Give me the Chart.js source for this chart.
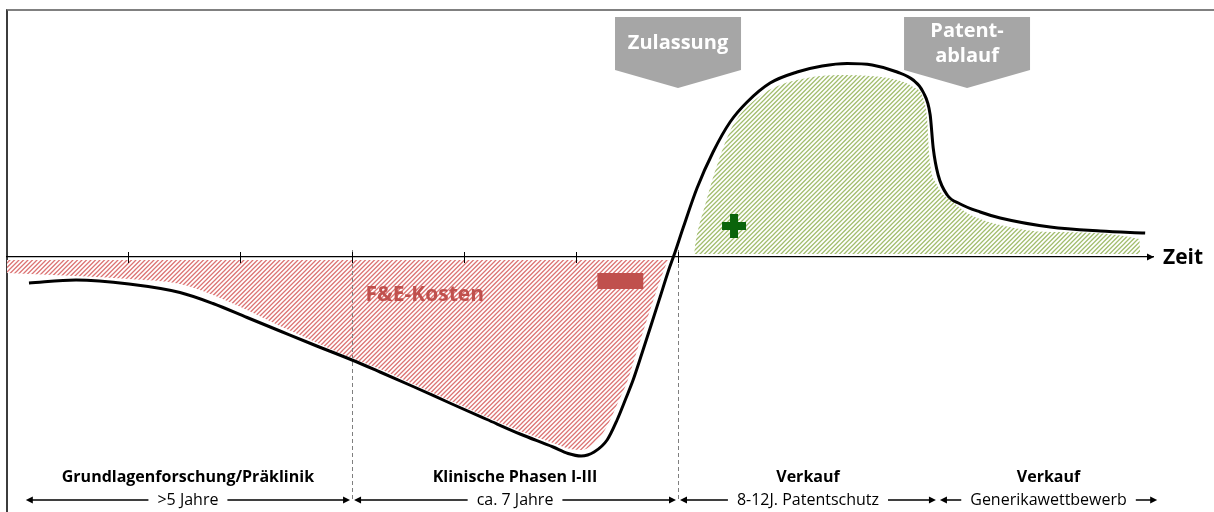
<!DOCTYPE html>
<html lang="de">
<head>
<meta charset="utf-8">
<title>Produktlebenszyklus Arzneimittel</title>
<script src="https://cdn.jsdelivr.net/npm/chart.js@4.4.1/dist/chart.umd.min.js"></script>
<style>
  html, body { margin: 0; padding: 0; background: #fff; overflow: hidden; }
  #wrap { position: relative; width: 1214px; height: 512px; }
  #frame { position: absolute; left: 6px; top: 9px; width: 1400px; height: 700px;
           border-top: 2px solid #808080; border-left: 2px solid #3c3c3c; }
  #chart { position: absolute; left: 0; top: 0; }
</style>
</head>
<body>
<div id="wrap">
  <div id="frame"></div>
  <canvas id="chart" width="1214" height="512"></canvas>
</div>
<script>
// Zeitachse: 1 Einheit = ein Tick-Abstand, Wertachse: Cashflow (beliebige Einheit)
const curveX = [0.116, 0.536, 1.009, 1.464, 1.759, 2.063, 2.357, 2.652, 3.000, 3.250, 3.545, 3.902, 4.205, 4.500, 4.795, 4.929, 5.045, 5.161, 5.277, 5.366, 5.446, 5.509, 5.589, 5.670, 5.750, 5.821, 5.884, 5.955, 6.080, 6.223, 6.375, 6.527, 6.732, 6.973, 7.196, 7.420, 7.643, 7.866, 8.009, 8.098, 8.161, 8.188, 8.232, 8.313, 8.429, 8.607, 8.786, 9.232, 9.679, 10.080];
const curveY = [-1.30, -1.15, -1.35, -1.775, -2.325, -3.025, -3.70, -4.375, -5.15, -5.75, -6.475, -7.375, -8.125, -8.85, -9.50, -9.825, -9.95, -9.75, -9.15, -8.15, -7.05, -6.15, -4.80, -3.40, -2.00, -0.75, 0.25, 1.45, 3.45, 5.25, 6.75, 7.75, 8.70, 9.25, 9.55, 9.675, 9.60, 9.25, 8.85, 8.25, 7.10, 5.45, 4.10, 3.10, 2.65, 2.25, 1.95, 1.50, 1.30, 1.20];

// schraffierte Fläche F&E-Kosten
const costX = [-0.080, 0.536, 1.009, 1.464, 1.759, 2.063, 2.357, 2.652, 2.955, 3.250, 3.545, 3.902, 4.205, 4.500, 4.795, 4.946, 5.054, 5.143, 5.223, 5.304, 5.384, 5.455, 5.518, 5.580, 5.643, 5.705, 5.768, 5.813, 5.830];
const costY = [-0.80, -0.95, -1.10, -1.35, -1.90, -2.65, -3.45, -4.20, -4.95, -5.60, -6.35, -7.25, -8.00, -8.70, -9.30, -9.60, -9.65, -9.40, -8.95, -8.15, -7.15, -6.25, -5.15, -4.05, -2.95, -1.90, -0.90, -0.25, -0.15];

// schraffierte Fläche Umsatz
const revX = [6.054, 6.063, 6.152, 6.259, 6.402, 6.616, 6.821, 7.063, 7.179, 7.402, 7.625, 7.866, 8.009, 8.098, 8.134, 8.152, 8.223, 8.366, 8.491, 8.786, 9.232, 10.027, 10.036];
const revY = [0.15, 0.60, 2.60, 4.60, 6.60, 7.95, 8.60, 8.95, 9.05, 9.10, 9.05, 8.85, 8.50, 7.95, 6.85, 5.10, 3.60, 2.75, 2.20, 1.60, 1.25, 0.90, 0.15];

const tickValues = [1, 2, 3, 4, 5, 5.91];
const phaseBounds = [0.07, 3.0, 5.91, 8.23, 10.205];
const phaseTitles = ["Grundlagenforschung/Präklinik", "Klinische Phasen I-III", "Verkauf", "Verkauf"];
const phaseSpans = [">5 Jahre", "ca. 7 Jahre", "8-12J. Patentschutz", "Generikawettbewerb"];
const milestoneX = [5.91, 8.49];
const milestoneLabels = [["Zulassung"], ["Patent-", "ablauf"]];

const FONT = "'Open Sans', 'Noto Sans', sans-serif";
const RED = "#c0504d";

// diagonale Schraffur "////", Abstand ca. 4,5 px
function hatch(color) {
  const s = 9;
  const c = document.createElement("canvas");
  c.width = s; c.height = s;
  const g = c.getContext("2d");
  g.fillStyle = "#fff";
  g.fillRect(0, 0, s, s);
  g.strokeStyle = color;
  g.lineWidth = 1.3;
  g.beginPath();
  [0, 4.5, 9, 13.5, 18].forEach(k => {
    g.moveTo(k - s - 1, s + 1);
    g.lineTo(k + 1, -1);
  });
  g.stroke();
  return g.createPattern(c, "repeat");
}

const toPts = (xs, ys) => xs.map((v, i) => ({ x: v, y: ys[i] }));

function arrowHead(ctx, x, y, dir) {
  ctx.beginPath();
  ctx.moveTo(x, y);
  ctx.lineTo(x - dir * 7, y - 3.5);
  ctx.lineTo(x - dir * 7, y + 3.5);
  ctx.closePath();
  ctx.fill();
}

const decor = {
  id: "decor",
  afterDatasetsDraw(chart) {
    const { ctx, chartArea: a, scales: { x, y } } = chart;
    const y0 = y.getPixelForValue(0);
    const titleY = y.getPixelForValue(-11);
    const spanY = y.getPixelForValue(-12.15);
    ctx.save();

    // gestrichelte Phasengrenzen
    ctx.strokeStyle = "#7f7f7f";
    ctx.lineWidth = 1;
    ctx.setLineDash([4, 3]);
    [phaseBounds[1], phaseBounds[2]].forEach(v => {
      const px = Math.round(x.getPixelForValue(v)) + 0.5;
      ctx.beginPath();
      ctx.moveTo(px, y0 - 7);
      ctx.lineTo(px, spanY);
      ctx.stroke();
    });
    ctx.setLineDash([]);

    // Ticks quer zur Achse
    ctx.strokeStyle = "#000";
    tickValues.forEach(v => {
      const px = Math.round(x.getPixelForValue(v)) + 0.5;
      ctx.beginPath();
      ctx.moveTo(px, y0 - 5);
      ctx.lineTo(px, y0 + 6);
      ctx.stroke();
    });

    // Pfeilspitze + "Zeit"
    ctx.fillStyle = "#000";
    arrowHead(ctx, a.right + 1, y0, 1);
    ctx.font = `bold 21px ${FONT}`;
    ctx.textBaseline = "middle";
    ctx.textAlign = "left";
    ctx.fillText("Zeit", a.right + 10, y0 + 1);

    // Meilensteine (graue Pfeilkästen)
    const top = y.getPixelForValue(12), boxBottom = y.getPixelForValue(9.35), tip = y.getPixelForValue(8.45);
    milestoneX.forEach((v, i) => {
      const cx = x.getPixelForValue(v);
      ctx.fillStyle = "#a6a6a6";
      ctx.beginPath();
      ctx.moveTo(cx - 63, top);
      ctx.lineTo(cx + 63, top);
      ctx.lineTo(cx + 63, boxBottom);
      ctx.lineTo(cx, tip);
      ctx.lineTo(cx - 63, boxBottom);
      ctx.closePath();
      ctx.fill();
      ctx.fillStyle = "#fff";
      ctx.font = `bold 20px ${FONT}`;
      ctx.textAlign = "center";
      const lines = milestoneLabels[i];
      const mid = (top + boxBottom) / 2;
      lines.forEach((t, k) => ctx.fillText(t, cx, mid + (k - (lines.length - 1) / 2) * 25));
    });

    // F&E-Kosten + Minus
    ctx.fillStyle = RED;
    ctx.font = `bold 21px ${FONT}`;
    ctx.textAlign = "left";
    ctx.fillText("F&E-Kosten", x.getPixelForValue(3.12), y.getPixelForValue(-1.9));
    const mx1 = x.getPixelForValue(5.19), mx2 = x.getPixelForValue(5.60);
    const my1 = y.getPixelForValue(-0.8), my2 = y.getPixelForValue(-1.6);
    ctx.fillRect(mx1, my1, mx2 - mx1, my2 - my1);

    // Plus
    const pcx = x.getPixelForValue(6.41), pcy = y.getPixelForValue(1.55);
    ctx.fillStyle = "#0b640b";
    ctx.fillRect(pcx - 12, pcy - 4, 24, 8);
    ctx.fillRect(pcx - 4, pcy - 12, 8, 24);

    // Phasenbeschriftung unten
    phaseTitles.forEach((t, i) => {
      const x1 = x.getPixelForValue(phaseBounds[i]) + 2;
      const x2 = x.getPixelForValue(phaseBounds[i + 1]) - 2;
      const cx = (x1 + x2) / 2;
      ctx.fillStyle = "#000";
      ctx.textAlign = "center";
      ctx.font = `bold 16px ${FONT}`;
      ctx.fillText(t, cx, titleY);
      ctx.font = `16px ${FONT}`;
      ctx.fillText(phaseSpans[i], cx, spanY);
      const w = ctx.measureText(phaseSpans[i]).width / 2 + 9;
      ctx.strokeStyle = "#000";
      ctx.lineWidth = 1.5;
      ctx.beginPath();
      ctx.moveTo(x1 + 3, spanY); ctx.lineTo(cx - w, spanY);
      ctx.moveTo(cx + w, spanY); ctx.lineTo(x2 - 3, spanY);
      ctx.stroke();
      arrowHead(ctx, x1, spanY, -1);
      arrowHead(ctx, x2, spanY, 1);
    });
    ctx.restore();
  }
};

new Chart(document.getElementById("chart"), {
  type: "line",
  data: {
    datasets: [
      {
        label: "Cashflow",
        data: toPts(curveX, curveY),
        borderColor: "#000",
        borderWidth: 3,
        pointRadius: 0,
        cubicInterpolationMode: "monotone",
        fill: false,
      },
      {
        label: "F&E-Kosten",
        data: toPts(costX, costY),
        borderWidth: 0,
        borderColor: "rgba(0,0,0,0)",
        pointRadius: 0,
        cubicInterpolationMode: "monotone",
        backgroundColor: hatch("#dc7474"),
        fill: { value: -0.15 },
      },
      {
        label: "Umsatz",
        data: toPts(revX, revY),
        borderWidth: 0,
        borderColor: "rgba(0,0,0,0)",
        pointRadius: 0,
        cubicInterpolationMode: "monotone",
        backgroundColor: hatch("#a2bd6e"),
        fill: { value: 0.15 },
      },
    ],
  },
  options: {
    responsive: false,
    animation: false,
    layout: { padding: { left: 7, right: 61, top: 17, bottom: 5 } },
    plugins: { legend: { display: false }, tooltip: { enabled: false } },
    scales: {
      x: {
        type: "linear",
        min: -0.08,
        max: 10.15,
        position: { y: 0 },
        grid: { display: false },
        ticks: { display: false },
        border: { color: "#000", width: 1.2 },
      },
      y: { type: "linear", min: -12.5, max: 12, display: false },
    },
  },
  plugins: [decor],
});
</script>
</body>
</html>
